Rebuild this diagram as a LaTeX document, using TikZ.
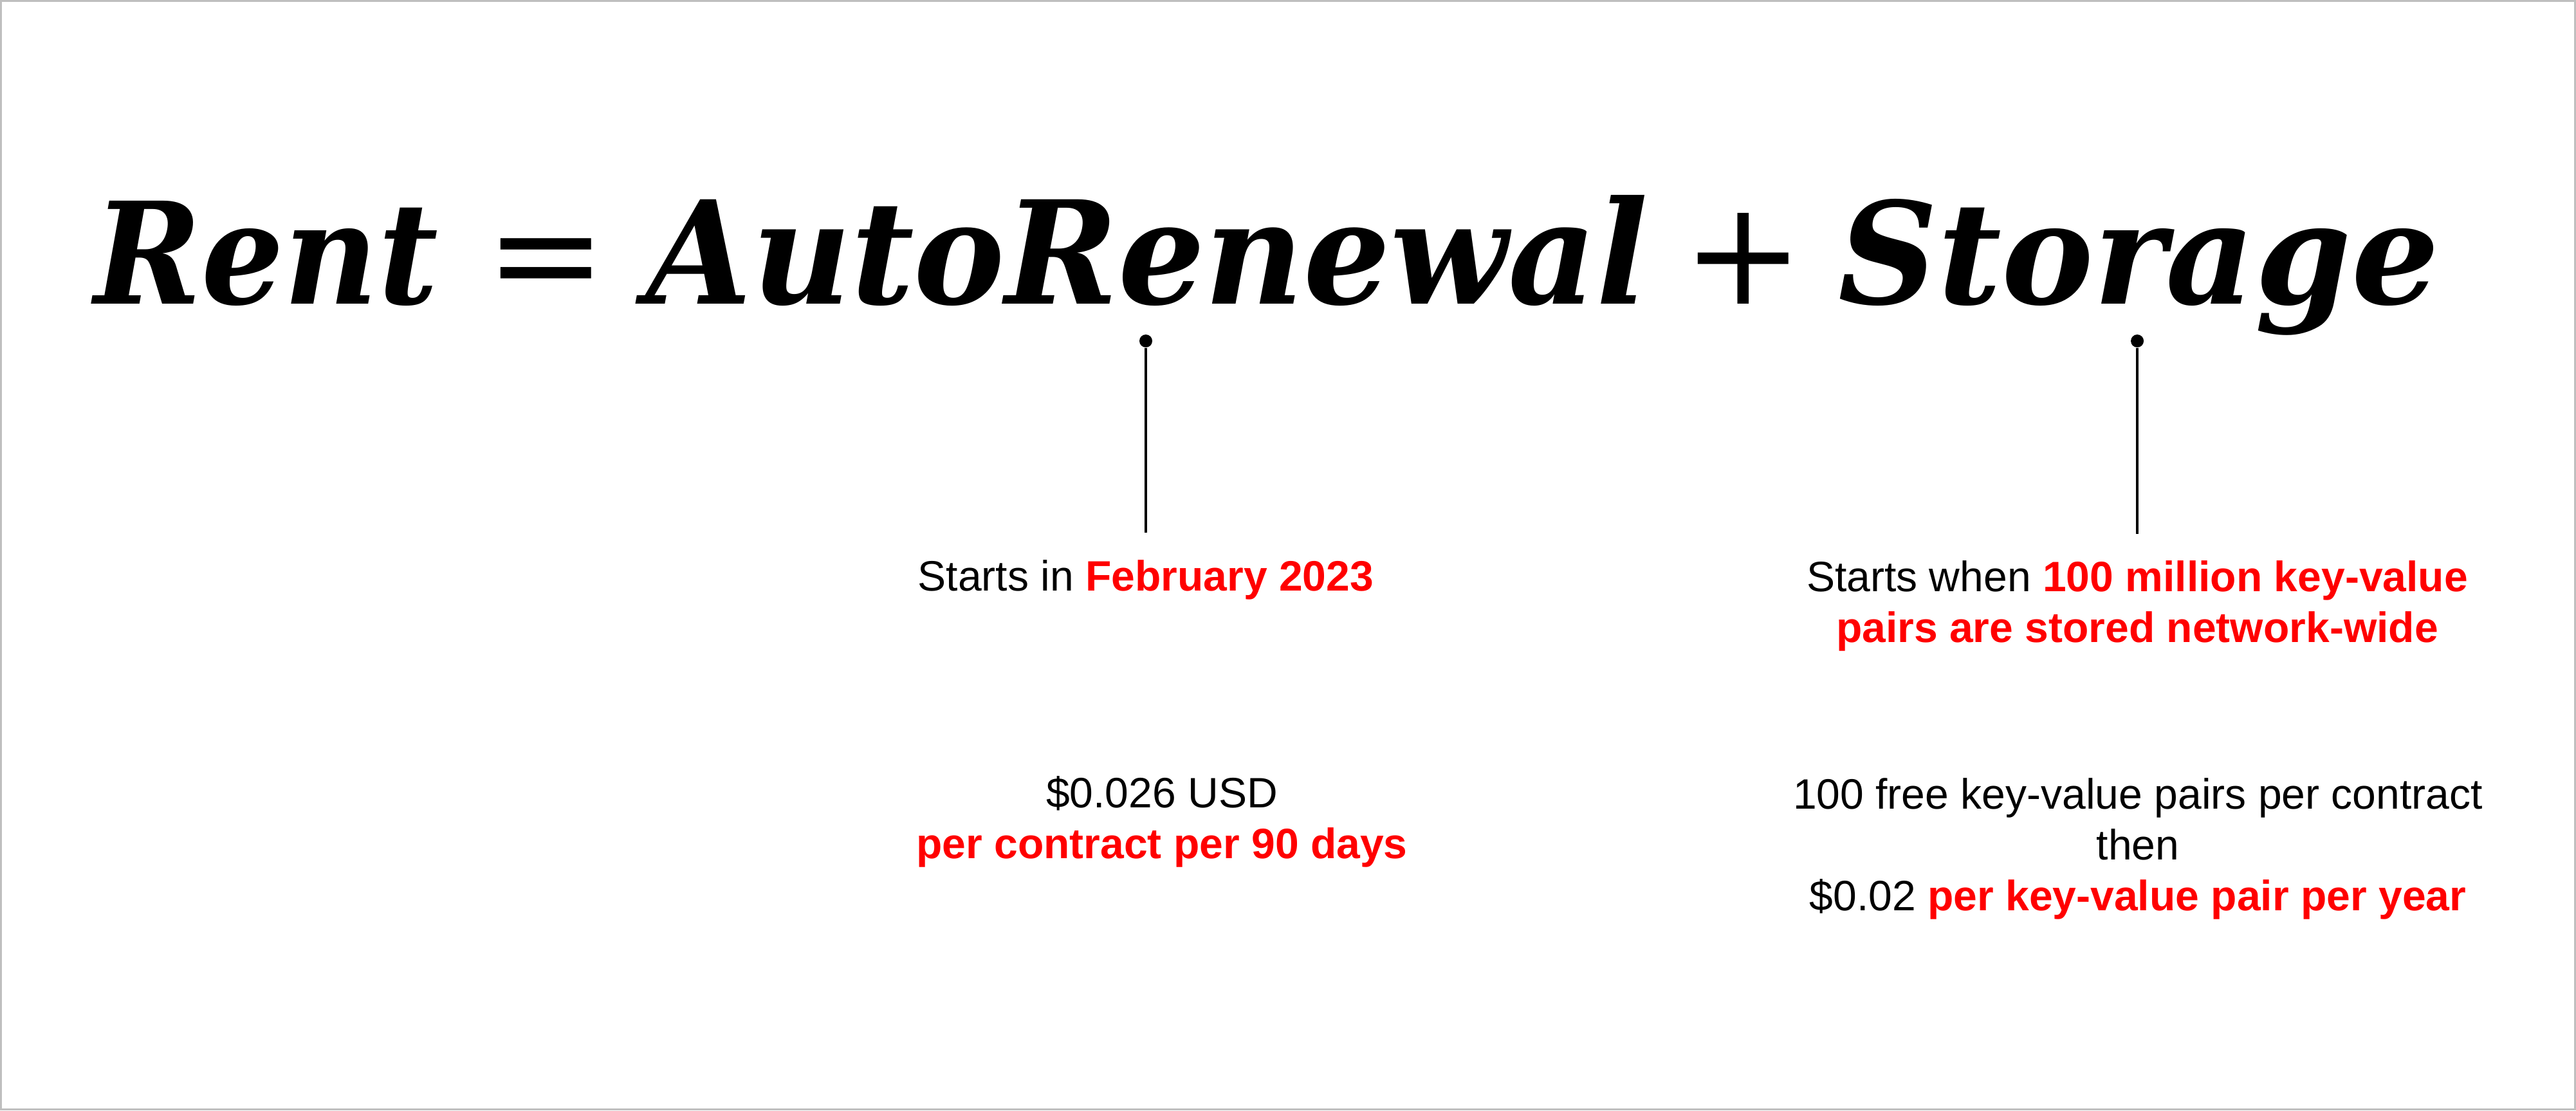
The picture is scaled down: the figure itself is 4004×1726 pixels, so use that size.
\documentclass[tikz,border=0pt]{standalone}
\usepackage{fontspec}
\setmainfont{Liberation Sans}
\newfontfamily\formfont{DejaVu Serif}
\usepackage{graphicx}
\definecolor{hl}{RGB}{255,0,0}
\definecolor{framegray}{RGB}{191,191,191}
\begin{document}
\begin{tikzpicture}[x=0.01cm,y=-0.01cm,
  word/.style={anchor=base west, inner sep=0pt, font=\formfont\bfseries\itshape},
  op/.style={anchor=base, inner sep=0pt, font=\formfont\fontsize{64pt}{64pt}\selectfont},
  pin/.style={circle, fill=black, inner sep=0pt, minimum size=0.2cm},
  stem/.style={line width=0.035cm, black},
  note/.style={anchor=north, inner sep=0pt, align=center, font=\fontsize{18.78pt}{22.48pt}\selectfont},
  hot/.style={}]
\useasboundingbox (0,0) rectangle (4004,1726);
\draw[framegray, line width=0.03cm] (1.5,1.5) rectangle (4002.5,1724.5);
% formula
\node[word] (rent) at (146,472) {\resizebox{5.34cm}{1.60cm}{Rent}};
\node[op] (eq) at (848.5,472) {=};
\node[word] (auto) at (1004,472) {\resizebox{15.56cm}{1.69cm}{AutoRenewal}};
\node[op] (plus) at (2709.5,472) {+};
\node[word] (stor) at (2857,472) {\resizebox{9.33cm}{1.63cm}{Storage}};
% pins
\node[pin] (pinA) at (1781,530) {};
\coordinate (endA) at (1781,828);
\draw[stem] (pinA) -- (endA);
\node[pin] (pinS) at (3322,530) {};
\coordinate (endS) at (3322,830);
\draw[stem] (pinS) -- (endS);
% notes
\node[note] (startA) at (1781,870) {Starts in {\bfseries\color{hl}February 2023}};
\node[note] (startS) at (3322,871) {Starts when {\bfseries\color{hl}100 million key-value}\\{\bfseries\color{hl}pairs are stored network-wide}};
\node[note] (priceA) at (1806,1206) {\$0.026 USD\\{\bfseries\color{hl}per contract per 90 days}};
\node[note] (priceS) at (3323,1209) {100 free key-value pairs per contract\\then\\\$0.02 {\bfseries\color{hl}per key-value pair per year}};
\end{tikzpicture}
\end{document}
